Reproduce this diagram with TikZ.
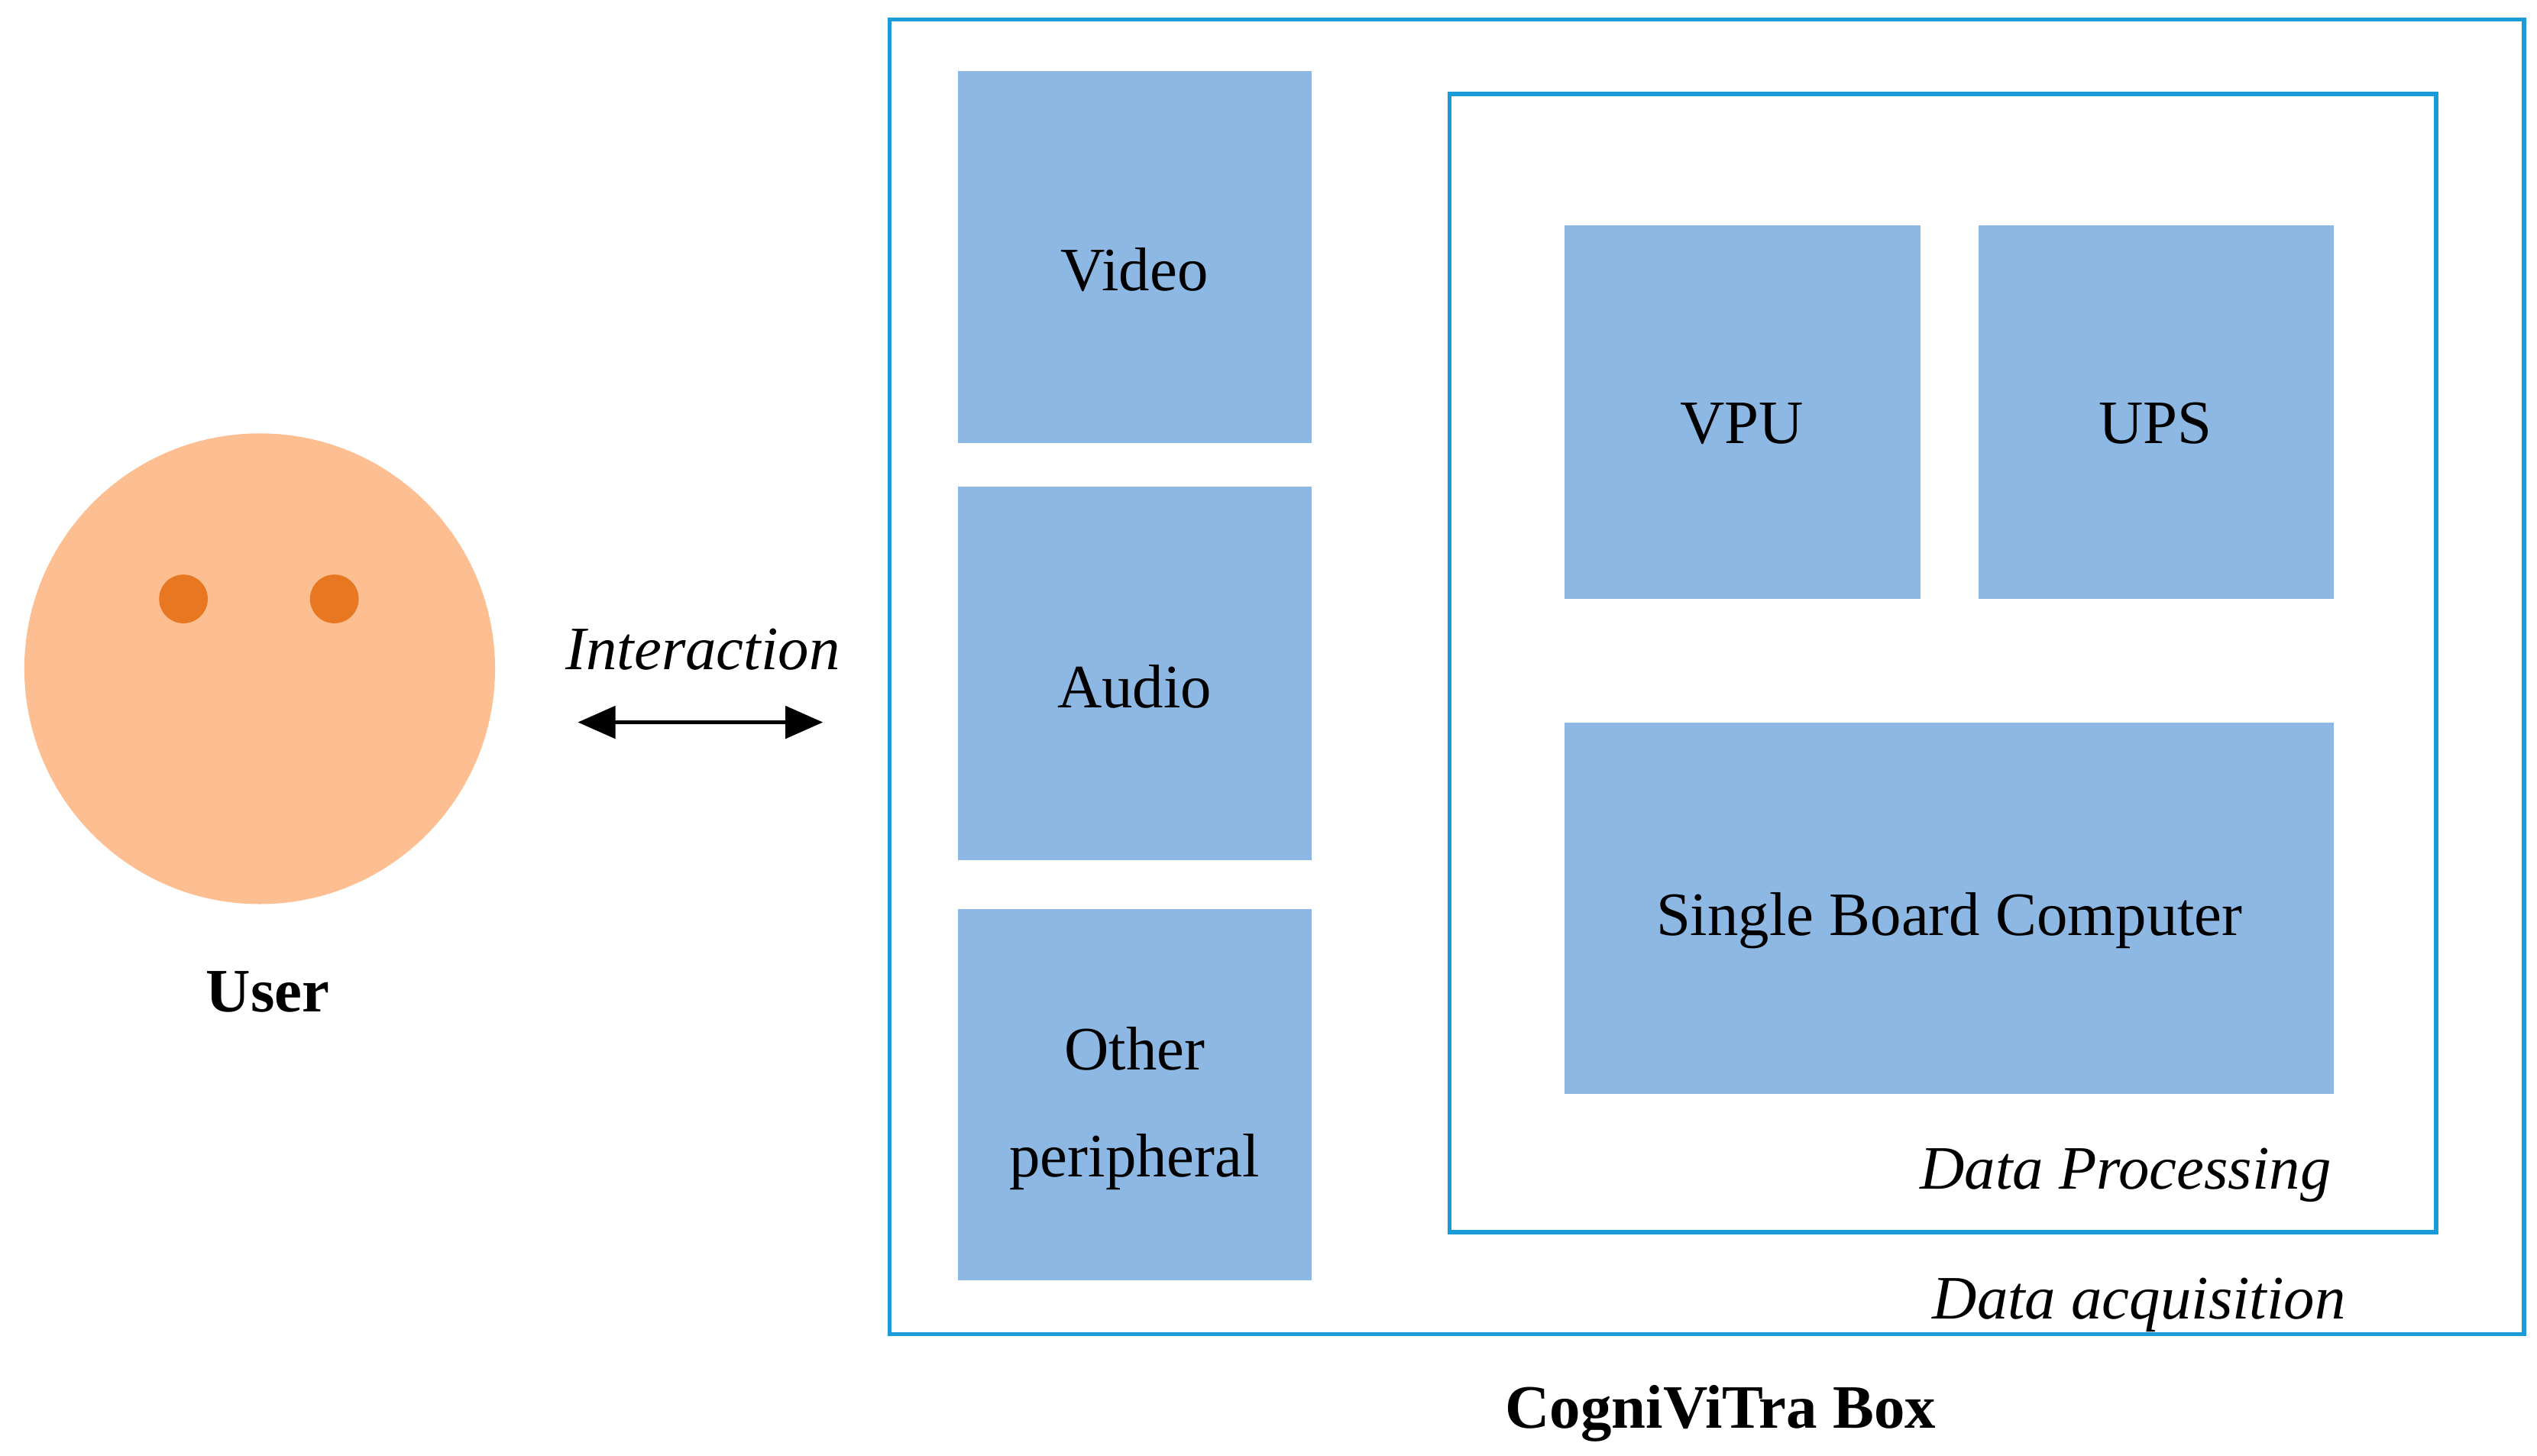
\documentclass[tikz,border=0pt]{standalone}
\usepackage{fontspec}
\setmainfont{Liberation Serif}
\usetikzlibrary{arrows.meta}
\definecolor{boxblue}{HTML}{8DB8E3}
\definecolor{frameblue}{HTML}{1B9BD7}
\definecolor{skin}{HTML}{FDBF92}
\definecolor{eye}{HTML}{E87722}
\tikzset{
	block/.style={draw=none, fill=boxblue, align=center, font=\fontsize{23}{40}\selectfont},
	frame/.style={draw=frameblue, line width=1.6pt},
	caption/.style={font=\fontsize{23}{26}\selectfont\itshape, anchor=east},
}
\begin{document}
\begin{tikzpicture}[x=0.02125cm, y=-0.02125cm, >=Triangle]
	\useasboundingbox (0,0) rectangle (1563,897);

	% user face
	\fill[skin] (160,412) circle [radius=145];
	\fill[eye] (113,369) circle [radius=15];
	\fill[eye] (206,369) circle [radius=15];
	\node[font=\fontsize{23}{26}\selectfont\bfseries] (user) at (165,611) {User};

	% interaction
	\node[font=\fontsize{23}{26}\selectfont\itshape] (inter) at (433,400) {Interaction};
	\coordinate (il) at (356,445);
	\coordinate (ir) at (507,445);
	\draw[<->, line width=1.4pt, >={Triangle[length=14pt, width=12pt]}] (il) -- (ir);

	% box frames
	\draw[frame] (548,12) rectangle (1555,822);
	\draw[frame] (893,58) rectangle (1501,759);

	% data acquisition
	\fill[boxblue] (590,44) rectangle (808,273);
	\node[block] (video) at (699,166) {Video};
	\fill[boxblue] (590,300) rectangle (808,530);
	\node[block] (audio) at (699,423) {Audio};
	\fill[boxblue] (590,560) rectangle (808,789);
	\node[block] (other) at (699,683) {Other\\peripheral};

	% data processing
	\fill[boxblue] (964,139) rectangle (1183,369);
	\node[block] (vpu) at (1073,261) {VPU};
	\fill[boxblue] (1219,139) rectangle (1438,369);
	\node[block] (ups) at (1328,261) {UPS};
	\fill[boxblue] (964,445) rectangle (1438,674);
	\node[block] (sbc) at (1201,567) {Single Board Computer};

	\node[caption] (proc) at (1442,724) {Data Processing};
	\node[caption] (acq) at (1451,804) {Data acquisition};
	\node[font=\fontsize{23}{26}\selectfont\bfseries] (cbox) at (1060,871) {CogniViTra Box};
\end{tikzpicture}
\end{document}
